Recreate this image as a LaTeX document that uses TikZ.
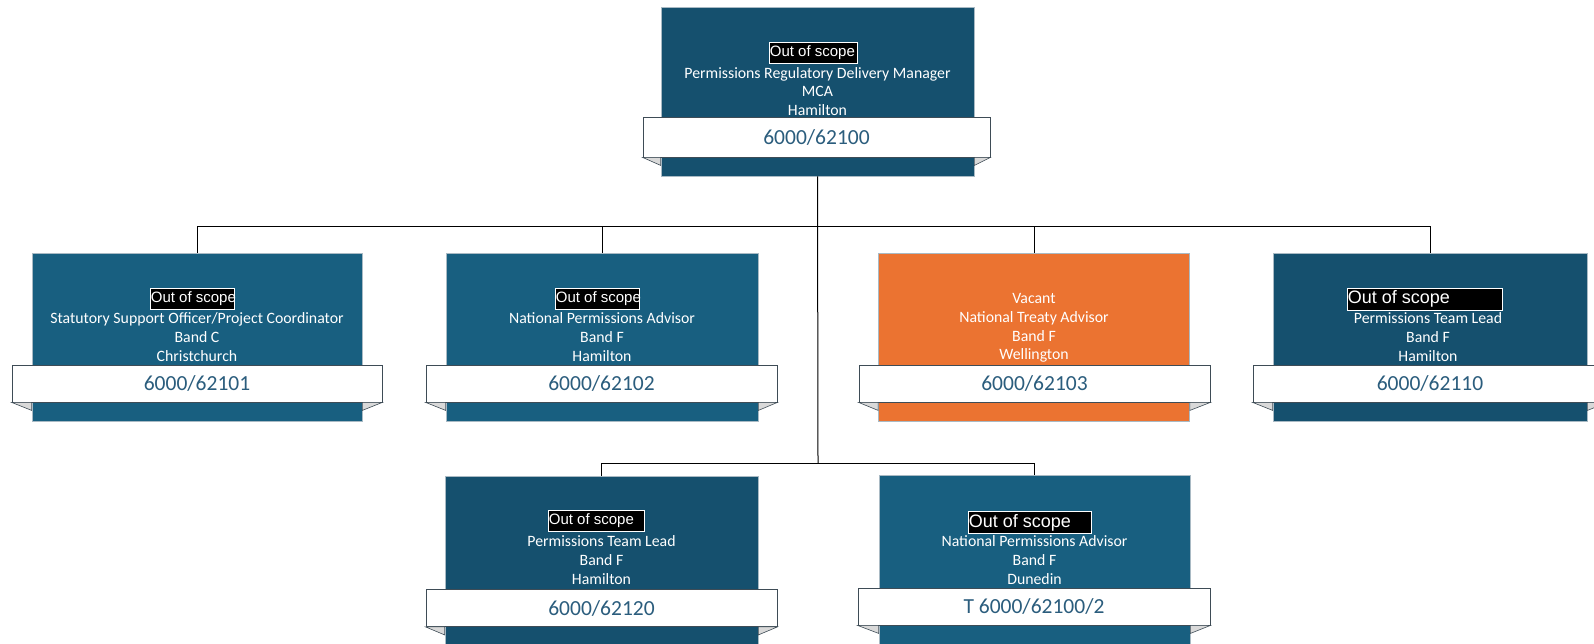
\documentclass[tikz,border=0pt]{standalone}
\usepackage{fontspec}
\setmainfont{Carlito}
\newfontfamily\arialf{Liberation Sans}
\usetikzlibrary{calc}
\definecolor{dkblue}{HTML}{15506E}
\definecolor{ltblue}{HTML}{185F80}
\definecolor{orng}{HTML}{EB7331}
\definecolor{numcol}{HTML}{2B5D7D}
\definecolor{bannerline}{HTML}{3E4C56}
\definecolor{boxline}{HTML}{A9BAC4}
\newcommand{\oostext}[1]{\makebox[#1][l]{Out of scope}}
\tikzset{
  posbox/.style={rectangle, draw=boxline, line width=0.8pt, inner sep=0pt},
  banner/.style={rectangle, fill=white, draw=bannerline, line width=0.8pt, inner sep=0pt,
    text=numcol, font=\fontsize{21.5}{24}\selectfont},
  info/.style={text=white, align=center, inner sep=0pt, font=\fontsize{15.8}{18.6}\selectfont},
  oos/.style={fill=black, draw=white, line width=0.7pt, text=white, inner xsep=0.5pt, inner ysep=0pt,
    minimum height=21pt, anchor=west, font=\arialf\fontsize{15}{17}\selectfont},
  oosbig/.style={oos, font=\arialf\fontsize{18}{20}\selectfont},
  fold/.style={fill=gray!30, draw=bannerline, line width=0.6pt},
  conn/.style={draw=black, line width=1pt}
}
\begin{document}
\begin{tikzpicture}[x=1pt,y=-1pt]
\useasboundingbox (0,0) rectangle (1594,643);
% ---------- boxes ----------
\node[posbox, fill=dkblue, minimum width=313pt, minimum height=169pt] (b0) at (817.5,91.5) {};
\node[posbox, fill=ltblue, minimum width=330pt, minimum height=168pt] (b1) at (197,337) {};
\node[posbox, fill=ltblue, minimum width=312pt, minimum height=168pt] (b2) at (602,337) {};
\node[posbox, fill=orng, minimum width=311pt, minimum height=168pt] (b3) at (1034,337) {};
\node[posbox, fill=dkblue, minimum width=314pt, minimum height=168pt] (b4) at (1430,337) {};
\node[posbox, fill=dkblue, minimum width=313pt, minimum height=190pt] (b5) at (601.5,571) {};
\node[posbox, fill=ltblue, minimum width=311pt, minimum height=190pt] (b6) at (1034.5,570) {};
% ---------- connectors ----------
\coordinate (j1) at (818,226);
\coordinate (j2) at (818,463);
\draw[conn] (b0.south) -- (j2);
\draw[conn] (b1.north) -- (b1.north |- j1) -- (b4.north |- j1) -- (b4.north);
\draw[conn] (b2.north) -- (b2.north |- j1);
\draw[conn] (b3.north) -- (b3.north |- j1);
\draw[conn] (b5.north) -- (b5.north |- j2) -- (b6.north |- j2) -- (b6.north);
% ---------- banners ----------
\node[banner, minimum width=347pt, minimum height=40pt] (n0) at (816.5,137) {6000/62100};
\node[banner, minimum width=370pt, minimum height=37pt] (n1) at (197,383.5) {6000/62101};
\node[banner, minimum width=351pt, minimum height=37pt] (n2) at (601.5,383.5) {6000/62102};
\node[banner, minimum width=351pt, minimum height=37pt] (n3) at (1034.5,383.5) {6000/62103};
\node[banner, minimum width=354pt, minimum height=37pt] (n4) at (1430,383.5) {6000/62110};
\node[banner, minimum width=351pt, minimum height=37pt] (n5) at (601.5,608) {6000/62120};
\node[banner, minimum width=352pt, minimum height=37pt] (n6) at (1034,606.5) {T 6000/62100/2};
% ---------- folds ----------
\foreach \b/\n in {b0/n0,b1/n1,b2/n2,b3/n3,b4/n4,b5/n5,b6/n6}{
  \draw[fold] (\n.south west) -- (\n.south west -| \b.west) -- ($(\n.south west -| \b.west)+(0,8)$) -- cycle;
  \draw[fold] (\n.south east) -- (\n.south east -| \b.east) -- ($(\n.south east -| \b.east)+(0,8)$) -- cycle;
}
% ---------- texts ----------
\node[oos] (o0) at (769,52.5) {\oostext{87pt}};
\node[info] (t0) at (817.5,91.5) {Permissions Regulatory Delivery Manager\\MCA\\Hamilton};
\node[oos] (o1) at (150,298.5) {\oostext{83pt}};
\node[info] (t1) at (197,337) {Statutory Support Officer/Project Coordinator\\Band C\\Christchurch};
\node[oos] (o2) at (555,298.5) {\oostext{83pt}};
\node[info] (t2) at (602,337) {National Permissions Advisor\\Band F\\Hamilton};
\node[info] (t3) at (1034,328) {Vacant\\National Treaty Advisor\\Band F\\Wellington};
\node[oosbig, minimum height=22pt] (o4) at (1347,299) {\oostext{154pt}};
\node[info] (t4) at (1428,337) {Permissions Team Lead\\Band F\\Hamilton};
\node[oos] (o5) at (548,521) {\oostext{95pt}};
\node[info] (t5) at (601.5,560) {Permissions Team Lead\\Band F\\Hamilton};
\node[oosbig, minimum height=22pt] (o6) at (968,522.5) {\oostext{122pt}};
\node[info] (t6) at (1034.5,560) {National Permissions Advisor\\Band F\\Dunedin};
\end{tikzpicture}
\end{document}
